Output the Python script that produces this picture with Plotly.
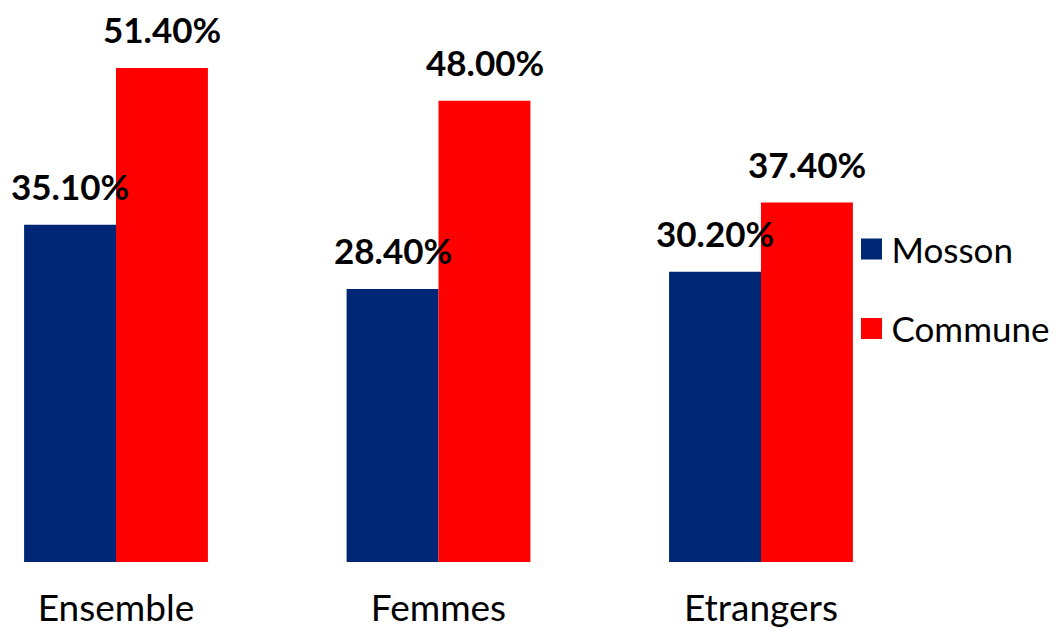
import plotly.graph_objects as go

categories = ["Ensemble", "Femmes", "Etrangers"]
mosson = [35.10, 28.40, 30.20]
commune = [51.40, 48.00, 37.40]
series_names = ["Mosson", "Commune"]
colors = ["#002776", "#FF0000"]

fig = go.Figure()
for name, vals, col, grp in ((series_names[0], mosson, colors[0], "a"),
                             (series_names[1], commune, colors[1], "b")):
    fig.add_trace(go.Bar(name=name, x=categories, y=vals,
                         marker=dict(color=col, line=dict(width=0)),
                         legendgroup=grp, showlegend=False))
    # legend entry with a larger square swatch
    fig.add_trace(go.Scatter(name=name, x=[None], y=[None], mode="markers",
                             marker=dict(symbol="square", size=16, color=col,
                                         line=dict(color=col, width=5)),
                             legendgroup=grp, showlegend=True))

label_font = dict(family="Lato", size=35, color="black")
ann = []
for vals, shift in ((mosson, -46), (commune, 46)):
    for c, v in zip(categories, vals):
        ann.append(dict(x=c, y=v, xref="x", yref="y", text=f"<b>{v:.2f}%</b>",
                        showarrow=False, xshift=shift, yshift=17, borderpad=0,
                        yanchor="bottom", xanchor="center", font=label_font))

fig.update_layout(
    width=1052, height=621,
    margin=dict(l=2, r=200, t=2, b=67, autoexpand=False),
    paper_bgcolor="white", plot_bgcolor="white",
    barmode="group", bargap=0.43, bargroupgap=0,
    annotations=ann,
    showlegend=True,
    legend=dict(x=0.99, xanchor="left", y=0.62, yanchor="top",
                font=dict(family="Lato", size=35, color="black"),
                traceorder="grouped", tracegroupgap=31,
                bgcolor="rgba(0,0,0,0)"),
    xaxis=dict(range=[-0.3287, 2.307], showgrid=False, zeroline=False,
               showline=False, ticks="", ticklabelstandoff=21,
               tickfont=dict(family="Lato", size=37, color="black")),
    yaxis=dict(range=[0, 57.43], visible=False, showgrid=False, zeroline=False),
)

fig.write_html("out.html")
